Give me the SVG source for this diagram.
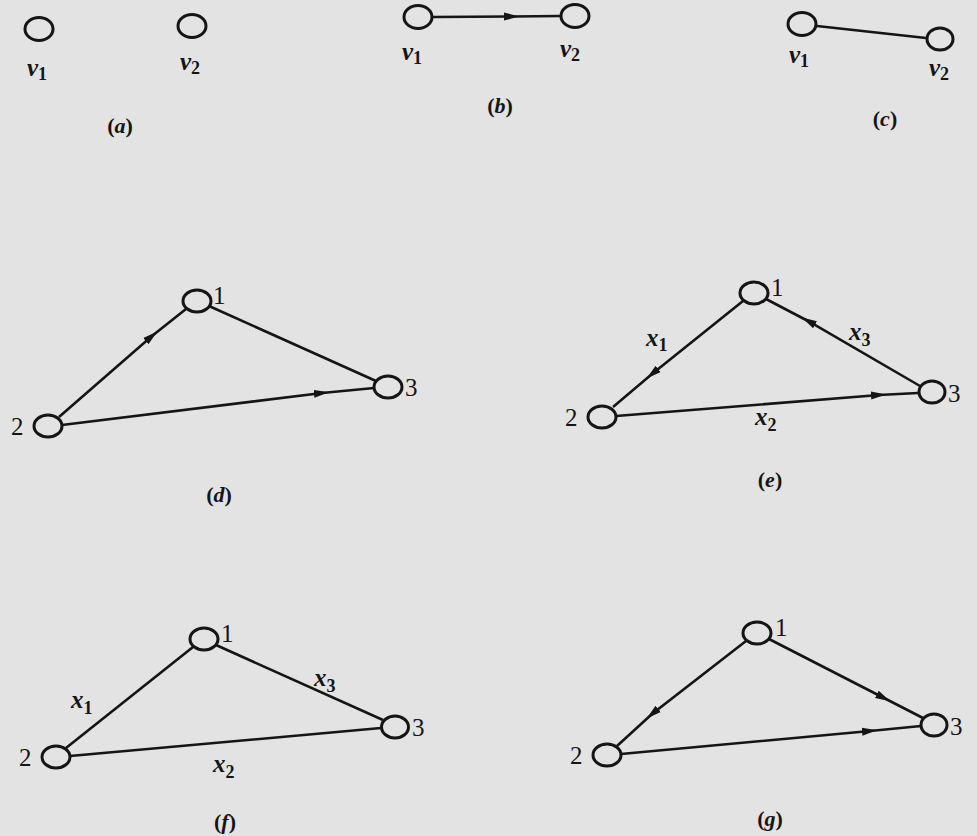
<svg xmlns="http://www.w3.org/2000/svg" width="977" height="836" viewBox="0 0 977 836">
<style>
.n{fill:none;stroke:#151515;stroke-width:3}
.e{fill:none;stroke:#151515;stroke-width:2.6;marker-mid:url(#ar)}
.p{fill:none;stroke:#151515;stroke-width:2.6}
.v{font-family:"Liberation Serif","DejaVu Serif",serif;font-style:italic;font-weight:bold;font-size:25px;fill:#151515}
.s{font-family:"Liberation Serif","DejaVu Serif",serif;font-style:normal;font-weight:bold;font-size:18px;fill:#151515}
.num{font-family:"Liberation Serif","DejaVu Serif",serif;font-size:25px;fill:#151515}
.cap{font-family:"Liberation Serif","DejaVu Serif",serif;font-weight:bold;font-size:22px;fill:#151515;text-anchor:middle}
.it{font-style:italic}
</style>
<defs>
<marker id="ar" markerUnits="userSpaceOnUse" markerWidth="16" markerHeight="10" viewBox="-8 -5 16 10" refX="0" refY="0" orient="auto">
<path d="M-8,-4 L7,0 L-8,4 Z" fill="#151515"/>
</marker>
</defs>
<rect width="977" height="836" fill="#e3e3e3"/>

<g id="connectors">
<path class="e" d="M433,17 L512,16.5 L560,16"/>
<path class="p" d="M817,26 L926,38"/>
<!-- d -->
<path class="e" d="M59,417 L152,336 L186,309"/>
<path class="p" d="M209,306 L376,381"/>
<path class="e" d="M62,425 L322,393 L374,388"/>
<!-- e -->
<path class="e" d="M743,301 L652,374 L613,407"/>
<path class="e" d="M920,386 L808,321 L766,299"/>
<path class="e" d="M616,416 L879,395 L918,393"/>
<!-- f -->
<path class="p" d="M193,647 L66,748"/>
<path class="p" d="M216,645 L383,720"/>
<path class="p" d="M70,756 L381,728"/>
<!-- g -->
<path class="e" d="M746,641 L652,714 L617,746"/>
<path class="e" d="M769,639 L884,698 L923,718"/>
<path class="e" d="M621,754 L870,731 L921,726"/>
</g>

<g id="a">
<ellipse class="n" cx="39" cy="29" rx="14" ry="11.5"/>
<ellipse class="n" cx="192" cy="26" rx="14" ry="11.5"/>
<text class="v" x="27" y="76">v<tspan class="s" dy="4">1</tspan></text>
<text class="v" x="180" y="70">v<tspan class="s" dy="4">2</tspan></text>
<text class="cap" x="120" y="133">(<tspan class="it">a</tspan>)</text>
</g>

<g id="b">
<ellipse class="n" cx="418" cy="17" rx="14" ry="11.5"/>
<ellipse class="n" cx="575" cy="16" rx="14" ry="11.5"/>
<text class="v" x="402" y="60">v<tspan class="s" dy="4">1</tspan></text>
<text class="v" x="560" y="57">v<tspan class="s" dy="4">2</tspan></text>
<text class="cap" x="500" y="113">(<tspan class="it">b</tspan>)</text>
</g>

<g id="c">
<ellipse class="n" cx="802" cy="24" rx="14" ry="11.5"/>
<ellipse class="n" cx="940" cy="39" rx="13" ry="11"/>
<text class="v" x="789" y="63">v<tspan class="s" dy="4">1</tspan></text>
<text class="v" x="929" y="76">v<tspan class="s" dy="4">2</tspan></text>
<text class="cap" x="885" y="126">(<tspan class="it">c</tspan>)</text>
</g>

<g id="d">
<ellipse class="n" cx="197" cy="301" rx="14" ry="11"/>
<ellipse class="n" cx="48" cy="426" rx="14" ry="11"/>
<ellipse class="n" cx="388" cy="387" rx="14" ry="11"/>
<text class="num" x="213" y="304">1</text>
<text class="num" x="11" y="435">2</text>
<text class="num" x="405" y="396">3</text>
<text class="cap" x="219" y="502">(<tspan class="it">d</tspan>)</text>
</g>

<g id="e">
<ellipse class="n" cx="754" cy="293" rx="14" ry="11"/>
<ellipse class="n" cx="602" cy="417" rx="14" ry="11"/>
<ellipse class="n" cx="932" cy="392" rx="13" ry="11"/>
<text class="num" x="771" y="296">1</text>
<text class="num" x="565" y="426">2</text>
<text class="num" x="948" y="402">3</text>
<text class="v" x="646" y="346">x<tspan class="s" dy="5">1</tspan></text>
<text class="v" x="849" y="340">x<tspan class="s" dy="6">3</tspan></text>
<text class="v" x="755" y="425">x<tspan class="s" dy="6">2</tspan></text>
<text class="cap" x="770" y="487">(<tspan class="it">e</tspan>)</text>
</g>

<g id="f">
<ellipse class="n" cx="204" cy="639" rx="14" ry="11"/>
<ellipse class="n" cx="56" cy="757" rx="14" ry="11"/>
<ellipse class="n" cx="395" cy="727" rx="13.5" ry="11"/>
<text class="num" x="221" y="642">1</text>
<text class="num" x="19" y="766">2</text>
<text class="num" x="412" y="736">3</text>
<text class="v" x="71" y="708">x<tspan class="s" dy="6">1</tspan></text>
<text class="v" x="314" y="686">x<tspan class="s" dy="6">3</tspan></text>
<text class="v" x="213" y="772">x<tspan class="s" dy="6">2</tspan></text>
<text class="cap" x="225" y="829">(<tspan class="it">f</tspan>)</text>
</g>

<g id="g">
<ellipse class="n" cx="757" cy="633" rx="14" ry="11"/>
<ellipse class="n" cx="607" cy="755" rx="14" ry="11"/>
<ellipse class="n" cx="934" cy="725" rx="13" ry="11"/>
<text class="num" x="775" y="636">1</text>
<text class="num" x="570" y="764">2</text>
<text class="num" x="950" y="735">3</text>
<text class="cap" x="770" y="826">(<tspan class="it">g</tspan>)</text>
</g>
</svg>
